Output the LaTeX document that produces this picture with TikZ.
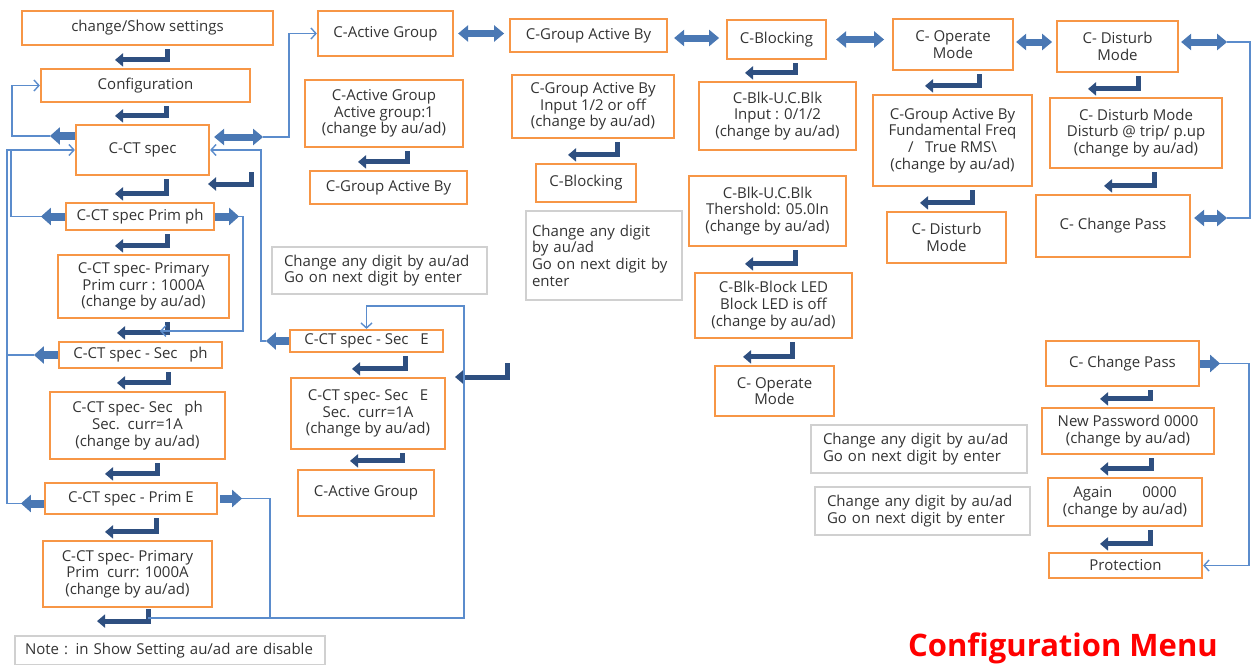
\documentclass[tikz,border=0pt]{standalone}
\usepackage{fontspec}
\setmainfont{Open Sans}
\usepackage{xcolor}
\usepackage{tikz}
\usetikzlibrary{arrows.meta}
\definecolor{boxorange}{HTML}{F79646}
\definecolor{enterblue}{HTML}{2E4F80}
\definecolor{blkblue}{HTML}{4A78B4}
\definecolor{linkblue}{HTML}{5B8CCC}
\definecolor{txtgrey}{HTML}{333333}
\definecolor{notegrey}{HTML}{D0D0D0}
\tikzset{enter/.style = {line width=5pt, draw=enterblue, -{Triangle[width=13pt,length=8pt]}}}
\tikzset{blk/.style = {line width=8pt, draw=blkblue, -{Triangle[width=17pt,length=10pt]}}}
\tikzset{dbl/.style = {line width=7pt, draw=blkblue, {Triangle[width=16pt,length=10pt]}-{Triangle[width=16pt,length=10pt]}}}
\tikzset{link/.style = {draw=linkblue, line width=1.4pt}}
\tikzset{linkarr/.style = {link, -{Straight Barb[length=5pt,width=11pt]}}}

\begin{document}
\begin{tikzpicture}[x=1pt,y=-1pt,every node/.style={font=\fontsize{15}{16.7}\selectfont,text=txtgrey},
    box/.style={draw=boxorange,line width=2.2pt,align=center,inner sep=0pt},
    note/.style={draw=notegrey,line width=1.2pt,align=left,inner sep=0pt}]
    \useasboundingbox (0,0) rectangle (1258,664);

    % CT spec column
    \node[box, minimum width=251pt, minimum height=34pt] (1) at (147.5,28) {change/Show settings};
    \node[box, minimum width=209pt, minimum height=33pt] (2) at (145.5,85.5) {Configuration};
    \node[box, minimum width=133pt, minimum height=50pt] (3) at (142.5,150) {C-CT spec};
    \node[box, minimum width=148pt, minimum height=27pt] (4) at (140,216.5) {C-CT spec Prim ph};
    \node[box, minimum width=171pt, minimum height=63pt] (5) at (143.5,286.5) {C-CT spec- Primary\\Prim curr : 1000A\\(change by au/ad)};
    \node[box, minimum width=163pt, minimum height=26pt] (6) at (140.5,355) {C-CT spec - Sec\ \ \ ph};
    \node[box, minimum width=175pt, minimum height=67pt] (7) at (137.5,425.5) {C-CT spec- Sec\ \ \ ph\\Sec.\ \ curr=1A\\(change by au/ad)};
    \node[box, minimum width=172pt, minimum height=31pt] (8) at (131,498.5) {C-CT spec - Prim E};
    \node[box, minimum width=169pt, minimum height=66pt] (9) at (127.5,574) {C-CT spec- Primary\\Prim\ \ curr: 1000A\\(change by au/ad)};
    \node[note, minimum width=310pt, minimum height=29pt, text width=290pt] (10) at (170,650.5) {Note : in Show Setting au/ad are disable};

    % active group column
    \node[box, minimum width=135pt, minimum height=45pt] (11) at (385.5,33.5) {C-Active Group};
    \node[box, minimum width=158pt, minimum height=67pt] (12) at (384,113.5) {C-Active Group\\Active group:1\\(change by au/ad)};
    \node[box, minimum width=157pt, minimum height=33pt] (13) at (388.5,187.5) {C-Group Active By};
    \node[note, minimum width=215pt, minimum height=47pt, text width=191pt] (14) at (379.5,270.5) {Change any digit by au/ad\\Go on next digit by enter};
    \node[box, minimum width=153pt, minimum height=22pt] (15) at (366.5,341) {C-CT spec - Sec\ \ \ E};
    \node[box, minimum width=154pt, minimum height=71pt] (16) at (368,413.5) {C-CT spec- Sec\ \ \ E\\Sec.\ \ curr=1A\\(change by au/ad)};
    \node[box, minimum width=136pt, minimum height=46pt] (17) at (366,493) {C-Active Group};

    % group active by column
    \node[box, minimum width=157pt, minimum height=33pt] (18) at (588.5,35.5) {C-Group Active By};
    \node[box, minimum width=162pt, minimum height=63pt] (19) at (593,106.5) {C-Group Active By\\Input 1/2 or off\\(change by au/ad)};
    \node[box, minimum width=100pt, minimum height=38pt] (20) at (586,183) {C-Blocking};
    \node[note, minimum width=156pt, minimum height=89pt, text width=144pt] (21) at (604,255.5) {Change any digit\\by au/ad\\Go on next digit by\\enter};

    % blocking column
    \node[box, minimum width=99pt, minimum height=39pt] (22) at (776.5,39.5) {C-Blocking};
    \node[box, minimum width=157pt, minimum height=68pt] (23) at (777.5,116) {C-Blk-U.C.Blk\\Input : 0/1/2\\(change by au/ad)};
    \node[box, minimum width=157pt, minimum height=70pt] (24) at (767.5,211) {C-Blk-U.C.Blk\\Thershold: 05.0In\\(change by au/ad)};
    \node[box, minimum width=157pt, minimum height=65pt] (25) at (773.5,305.5) {C-Blk-Block LED\\Block LED is off\\(change by au/ad)};
    \node[box, minimum width=119pt, minimum height=50pt] (26) at (774.5,391) {C- Operate\\Mode};

    % operate mode column
    \node[box, minimum width=120pt, minimum height=51pt] (27) at (953,44.5) {C- Operate\\Mode};
    \node[box, minimum width=159pt, minimum height=91pt] (28) at (952.5,140.5) {C-Group Active By\\Fundamental Freq\\/\ \ \ True RMS\textbackslash\\(change by au/ad)};
    \node[box, minimum width=119pt, minimum height=51pt] (29) at (946.5,237.5) {C- Disturb\\Mode};

    % disturb mode column
    \node[box, minimum width=121pt, minimum height=51pt] (30) at (1117.5,46.5) {C- Disturb\\Mode};
    \node[box, minimum width=172pt, minimum height=70pt] (31) at (1136,133) {C- Disturb Mode\\Disturb @ trip/ p.up\\(change by au/ad)};
    \node[box, minimum width=154pt, minimum height=62pt] (32) at (1113,226) {C- Change Pass};

    % password column
    \node[box, minimum width=153pt, minimum height=45pt] (33) at (1122.5,363.5) {C- Change Pass};
    \node[box, minimum width=172pt, minimum height=46pt] (34) at (1128,431) {New Password 0000\\(change by au/ad)};
    \node[box, minimum width=154pt, minimum height=48pt] (35) at (1125,502) {Again\hspace{30pt}0000\\(change by au/ad)};
    \node[box, minimum width=153pt, minimum height=25pt] (36) at (1125.5,565.5) {Protection};
    \node[note, minimum width=216pt, minimum height=48pt, text width=192pt] (37) at (919,449) {Change any digit by au/ad\\Go on next digit by enter};
    \node[note, minimum width=215pt, minimum height=48pt, text width=191pt] (38) at (922.5,511) {Change any digit by au/ad\\Go on next digit by enter};

    \node[font=\fontsize{31}{35}\selectfont\bfseries, text=red] (39) at (1063,648) {Configuration Menu};

    % enter arrows
    \draw[enter] ([xshift=19.5pt]1.south) ++(0,3) |- ([xshift=-30.5pt,yshift=8pt]2.north);
    \draw[enter] ([xshift=20.5pt]2.south) ++(0,3) |- ([xshift=-27.5pt,yshift=8pt]3.north);
    \draw[enter] ([xshift=23.5pt]3.south) ++(0,3) |- ([xshift=-25pt,yshift=8pt]4.north);
    \draw[enter] ([xshift=27pt]4.south) ++(0,3) |- ([xshift=-28.5pt,yshift=8pt]5.north);
    \draw[enter] ([xshift=23.5pt]5.south) ++(0,3) |- ([xshift=-23.5pt,yshift=8pt]6.north);
    \draw[enter] ([xshift=27.5pt]6.south) ++(0,3) |- ([xshift=-20.5pt,yshift=8pt]7.north);
    \draw[enter] ([xshift=19.5pt]7.south) ++(0,3) |- ([xshift=-26pt,yshift=8pt]8.north);
    \draw[enter] ([xshift=25pt]8.south) ++(0,3) |- ([xshift=-22.5pt,yshift=8pt]9.north);
    \draw[enter] ([xshift=20.5pt]9.south) ++(0,1) |- ++(-51,12);
    \draw[enter] ([xshift=23pt]12.south) ++(0,3) |- ([xshift=-30.5pt,yshift=8pt]13.north);
    \draw[enter] ([xshift=38.5pt]15.south) ++(0,3) |- ([xshift=-16pt,yshift=8pt]16.north);
    \draw[enter] ([xshift=34pt]16.south) ++(0,3) |- ([xshift=-16pt,yshift=8pt]17.north);
    \draw[enter] ([xshift=24pt]19.south) ++(0,3) |- ([xshift=-18pt,yshift=8pt]20.north);
    \draw[enter] ([xshift=18.5pt]22.south) ++(0,3) |- ([xshift=-32.5pt,yshift=8pt]23.north);
    \draw[enter] ([xshift=27.5pt]24.south) ++(0,3) |- ([xshift=-28.5pt,yshift=8pt]25.north);
    \draw[enter] ([xshift=18.5pt]25.south) ++(0,3) |- ([xshift=-31.5pt,yshift=8pt]26.north);
    \draw[enter] ([xshift=26pt]27.south) ++(0,3) |- ([xshift=-27.5pt,yshift=8pt]28.north);
    \draw[enter] ([xshift=19.5pt]28.south) ++(0,3) |- ([xshift=-26.5pt,yshift=8pt]29.north);
    \draw[enter] ([xshift=20.5pt]30.south) ++(0,3) |- ([xshift=-48pt,yshift=8pt]31.north);
    \draw[enter] ([xshift=18pt]31.south) ++(0,3) |- ([xshift=-9pt,yshift=8pt]32.north);
    \draw[enter] ([xshift=27.5pt]33.south) ++(0,3) |- ([xshift=-28pt,yshift=8pt]34.north);
    \draw[enter] ([xshift=23pt]34.south) ++(0,3) |- ([xshift=-25pt,yshift=8pt]35.north);
    \draw[enter] ([xshift=25pt]35.south) ++(0,3) |- ([xshift=-25.5pt,yshift=8pt]36.north);
    \coordinate (e1) at (251,172);
    \coordinate (e2) at (507,363);
    \draw[enter] (e1) |- ++(-43,12);
    \draw[enter] (e2) |- ++(-52,14);

    % side arrows
    \draw[dbl] ([xshift=4pt]11.east) -- ++(46,0);
    \draw[dbl] ([xshift=6pt,yshift=-2.5pt]18.east) -- ++(45,0);
    \draw[dbl] ([xshift=9pt]22.east) -- ++(48,0);
    \draw[dbl] ([xshift=2pt,yshift=2.5pt]27.east) -- ++(36,0);
    \draw[dbl] ([xshift=2pt,yshift=4.5pt]30.east) -- ++(46,0) coordinate (30r);
    \draw[dbl] ([xshift=3pt,yshift=8pt]32.east) -- ++(33,0) coordinate (32r);
    \draw[dbl] ([xshift=4pt,yshift=13pt]3.east) -- ++(49,0) coordinate (3r);
    \draw[blk] ([yshift=14pt]3.west) -- ++(-25,0) coordinate (3l);
    \draw[blk] (4.west) -- ++(-24,0) coordinate (4l);
    \draw[blk] (4.east) -- ++(24,0) coordinate (4r);
    \draw[blk] (6.west) -- ++(-24,0) coordinate (6l);
    \draw[blk] ([yshift=-5pt]8.west) -- ++(-23,0) coordinate (8l);
    \draw[blk] ([xshift=2pt]8.east) -- ++(22,0) coordinate (8r);
    \draw[blk] (15.west) -- ++(-23,0) coordinate (15l);
    \draw[blk] (33.east) -- ++(20,0) coordinate (33r);

    % thin links
    \coordinate (m1) at (160,331);
    \coordinate (i1) at ([xshift=20.5pt,yshift=-10pt]9.south);
    \draw[linkarr] (3l) -| ([xshift=-28pt]2.west) -- (2.west);
    \draw[linkarr] (3r) -| ([xshift=-28pt]11.west) -- (11.west);
    \draw[linkarr] (4l) -| ([xshift=-64pt]3.west) -- (3.west);
    \draw[link] (6l) -| ([xshift=-68pt]3.west) -- ([xshift=-64pt]3.west);
    \draw[link] (8l) -| ([xshift=-68pt]3.west);
    \draw[linkarr] (4r) -- ++(4,0) |- (m1);
    \draw[linkarr] (15l) -- ++(-5,0) |- (3.east);
    \draw[link] (8r) -- ++(28,0) -- ++(0,118);
    \draw[linkarr] (i1) -- ++(316,0) |- ([yshift=23pt]15.north) -- (15.north);
    \draw[link] (30r) -- ++(23,0) |- (32r);
    \draw[linkarr] (33r) -- ++(29,0) |- (36.east);
\end{tikzpicture}
\end{document}
